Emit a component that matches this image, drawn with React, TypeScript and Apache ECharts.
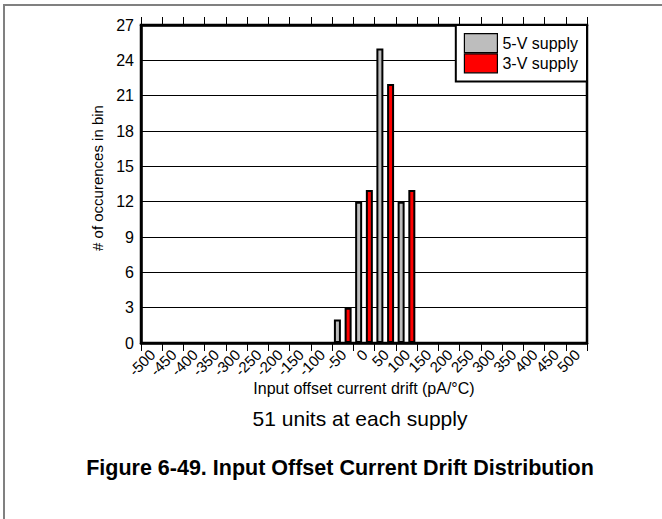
import React, { useEffect, useRef } from "react";
import * as echarts from "echarts";

const binStarts = [-500, -450, -400, -350, -300, -250, -200, -150, -100, -50, 0, 50, 100, 150, 200, 250, 300, 350, 400, 450, 500];
const binWidth = 50;
const supply5V = [0, 0, 0, 0, 0, 0, 0, 0, 0, 2, 12, 25, 12, 0, 0, 0, 0, 0, 0, 0, 0];
const supply3V = [0, 0, 0, 0, 0, 0, 0, 0, 0, 3, 13, 22, 13, 0, 0, 0, 0, 0, 0, 0, 0];
const yTicks = [0, 3, 6, 9, 12, 15, 18, 21, 24, 27];
const seriesNames = ["5-V supply", "3-V supply"];
const xName = "Input offset current drift (pA/°C)";
const yName = "# of occurences in bin";
const subtitle = "51 units at each supply";
const figTitle = "Figure 6-49. Input Offset Current Drift Distribution";

const FONT = "'Liberation Sans', Arial, Helvetica, sans-serif";
// horizontal label offset (in axis units) so rotated labels end right of their tick
const LABEL_SHIFT = 27;

function toData(counts: number[]) {
  return binStarts
    .map((b, i) => [b + binWidth / 2, counts[i]])
    .filter((d) => d[1] > 0);
}

export default function App() {
  const ref = useRef<HTMLDivElement>(null);
  useEffect(() => {
    if (!ref.current) return;
    const chart = echarts.init(ref.current, null, { renderer: "svg" });
    const xMin = binStarts[0];
    const xMax = binStarts[binStarts.length - 1] + binWidth;
    const barStyle = (color: string) => ({ color, borderColor: "#000", borderWidth: 2 });
    chart.setOption({
      animation: false,
      backgroundColor: "#fff",
      textStyle: { fontFamily: FONT },
      grid: {
        left: 141, right: 75, top: 25, bottom: 176,
        show: true, borderColor: "#000", borderWidth: 2.5, backgroundColor: "transparent",
      },
      legend: {
        orient: "vertical", right: 75, top: 25,
        itemWidth: 33, itemHeight: 19, itemGap: 0,
        padding: [8, 9, 8, 8],
        borderColor: "#000", borderWidth: 2, backgroundColor: "#fff",
        textStyle: { fontSize: 16, color: "#000", fontFamily: FONT },
        icon: "rect",
        itemStyle: { borderWidth: 1.2 },
        data: seriesNames,
      },
      xAxis: [
        {
          type: "value", min: xMin, max: xMax, interval: binWidth,
          name: xName, nameLocation: "middle", nameGap: 37, nameMoveOverlap: false,
          nameTextStyle: { fontSize: 16, color: "#000", fontFamily: FONT },
          axisLine: { show: true, onZero: false, lineStyle: { color: "#000", width: 2.5 } },
          axisTick: { show: true, inside: false, length: 8, lineStyle: { color: "#000", width: 1 } },
          axisLabel: { show: false },
          splitLine: { show: false },
        },
        {
          type: "value", position: "top", min: xMin, max: xMax, interval: binWidth,
          axisLine: { show: true, onZero: false, lineStyle: { color: "#000", width: 2.5 } },
          axisTick: { show: true, inside: false, length: 8, lineStyle: { color: "#000", width: 1 } },
          axisLabel: { show: false },
          splitLine: { show: false },
        },
        {
          type: "value", position: "bottom", min: xMin - LABEL_SHIFT, max: xMax - LABEL_SHIFT,
          axisLine: { show: false, onZero: false },
          axisTick: { show: false },
          splitLine: { show: false },
          axisLabel: {
            rotate: 45, fontSize: 15, color: "#000", margin: 9, fontFamily: FONT,
            customValues: binStarts,
            formatter: (v: number) => String(v),
            showMinLabel: true, showMaxLabel: true,
          },
        },
      ],
      yAxis: {
        type: "value", min: yTicks[0], max: yTicks[yTicks.length - 1], interval: yTicks[1] - yTicks[0],
        name: yName, nameLocation: "middle", nameGap: 35,
        nameTextStyle: { fontSize: 15, color: "#000", fontFamily: FONT, padding: [0, 0, 0, 12] },
        axisLine: { show: true, onZero: false, lineStyle: { color: "#000", width: 2.5 } },
        axisTick: { show: false },
        axisLabel: { fontSize: 16, color: "#000", margin: 7, fontFamily: FONT },
        splitLine: { show: true, lineStyle: { color: "#000", width: 1 } },
      },
      series: [
        {
          name: seriesNames[0], type: "bar", data: toData(supply5V),
          barWidth: 7, barGap: "53%", itemStyle: barStyle("#bdbdbd"),
        },
        {
          name: seriesNames[1], type: "bar", data: toData(supply3V),
          barWidth: 7, barGap: "53%", itemStyle: barStyle("#ff0000"),
        },
      ],
      graphic: [
        { type: "line", shape: { x1: 3, y1: 5, x2: 662, y2: 5 }, style: { stroke: "#808080", lineWidth: 2 } },
        { type: "line", shape: { x1: 4, y1: 5, x2: 4, y2: 519 }, style: { stroke: "#808080", lineWidth: 2 } },
        {
          type: "text", x: 360, y: 418,
          style: { text: subtitle, fontSize: 21, fill: "#000", fontFamily: FONT, textAlign: "center", textVerticalAlign: "middle" },
        },
        {
          type: "text", x: 340, y: 468,
          style: { text: figTitle, fontSize: 21.5, fontWeight: "bold", fill: "#000", fontFamily: FONT, textAlign: "center", textVerticalAlign: "middle" },
        },
      ],
    });
    return () => chart.dispose();
  }, []);
  return <div ref={ref} style={{ position: "absolute", left: 0, top: 0, width: 662, height: 519 }} />;
}
